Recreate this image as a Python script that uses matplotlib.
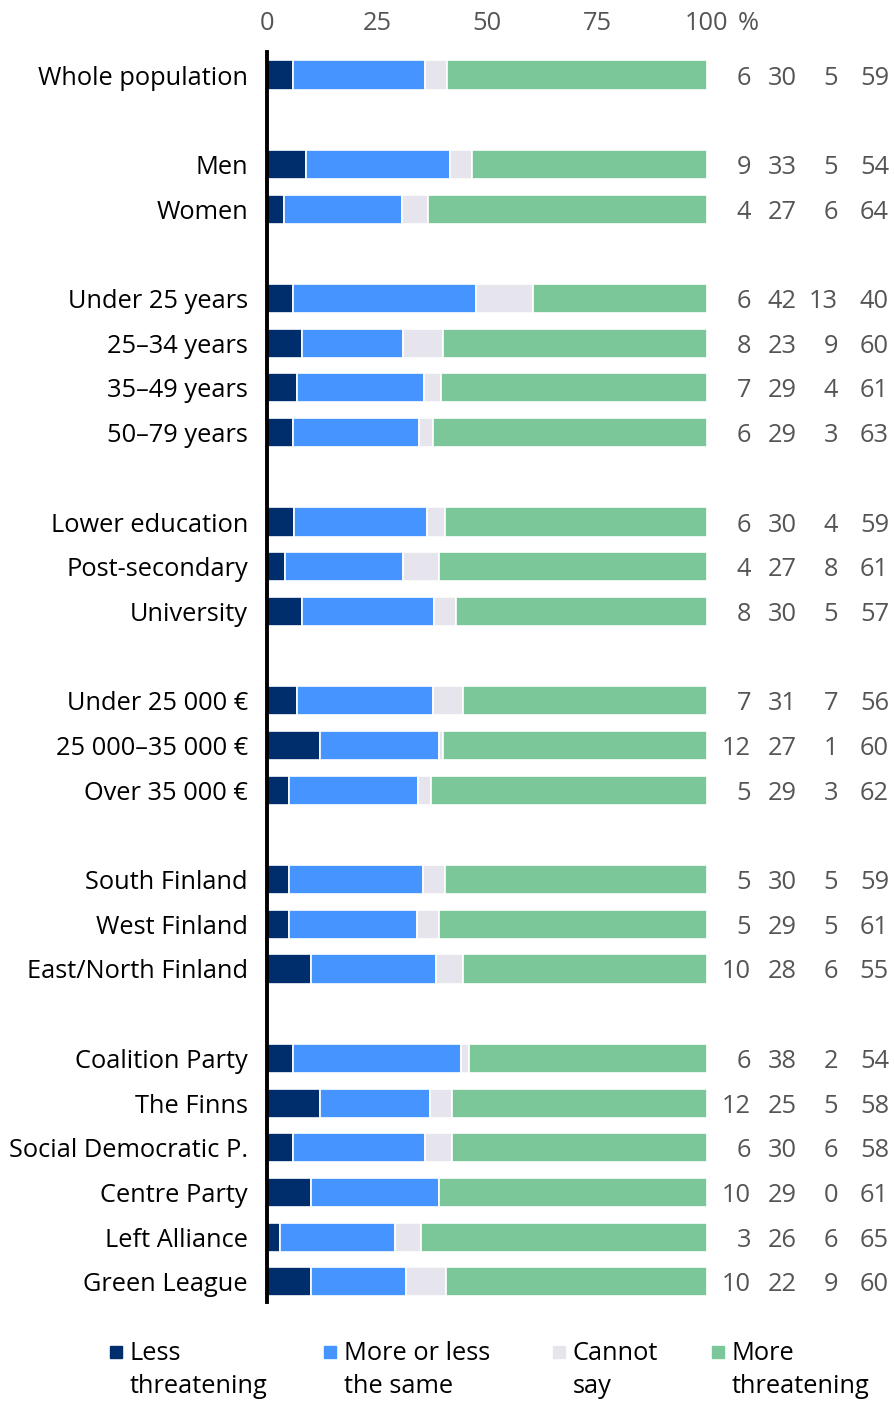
import matplotlib
matplotlib.use("Agg")
import matplotlib.pyplot as plt
import matplotlib.transforms as mtransforms
import numpy as np

plt.rcParams['font.family'] = ['Open Sans', 'DejaVu Sans']

categories = ["Whole population", "Men", "Women", "Under 25 years", "25–34 years",
              "35–49 years", "50–79 years", "Lower education", "Post-secondary",
              "University", "Under 25 000 €", "25 000–35 000 €", "Over 35 000 €",
              "South Finland", "West Finland", "East/North Finland", "Coalition Party",
              "The Finns", "Social Democratic P.", "Centre Party", "Left Alliance",
              "Green League"]
# row positions (blank rows separate groups)
rows = [0, 2, 3, 5, 6, 7, 8, 10, 11, 12, 14, 15, 16, 18, 19, 20, 22, 23, 24, 25, 26, 27]

less = [6, 9, 4, 6, 8, 7, 6, 6, 4, 8, 7, 12, 5, 5, 5, 10, 6, 12, 6, 10, 3, 10]
same = [30, 33, 27, 42, 23, 29, 29, 30, 27, 30, 31, 27, 29, 30, 29, 28, 38, 25, 30, 29, 26, 22]
cannot = [5, 5, 6, 13, 9, 4, 3, 4, 8, 5, 7, 1, 3, 5, 5, 6, 2, 5, 6, 0, 6, 9]
more = [59, 54, 64, 40, 60, 61, 63, 59, 61, 57, 56, 60, 62, 59, 61, 55, 54, 58, 58, 61, 65, 60]

series_names = ["Less\nthreatening", "More or less\nthe same", "Cannot\nsay", "More\nthreatening"]
colors = ["#002d6b", "#4594ff", "#e6e4ed", "#7cc799"]
xticks = [0, 25, 50, 75, 100]

W, H = 895, 1402
fig = plt.figure(figsize=(W / 100, H / 100), dpi=100)
ax_left, ax_right = 267, 707
ax_top, ax_bot = 52, 1302
ax = fig.add_axes([ax_left / W, 1 - ax_bot / H, (ax_right - ax_left) / W, (ax_bot - ax_top) / H])

data = np.array([less, same, cannot, more], dtype=float)
totals = data.sum(axis=0)
norm = data / totals * 100
left = np.zeros(len(categories))
y = np.array(rows, dtype=float)
for i in range(4):
    ax.barh(y, norm[i], left=left, height=0.65, color=colors[i],
            edgecolor="white", linewidth=1.2, zorder=2)
    left += norm[i]

ax.set_xlim(0, 100)
ax.set_ylim(27.45, -0.515)
ax.set_yticks([])
ax.set_xticks([])
for s in ["top", "right", "bottom"]:
    ax.spines[s].set_visible(False)
ax.spines["left"].set_linewidth(2.8)
ax.spines["left"].set_color("black")
ax.spines["left"].set_zorder(5)

fs = 18.3
# category labels
for r, c in zip(rows, categories):
    ax.text(-4.3, r, c, ha="right", va="center_baseline", fontsize=fs, color="black", clip_on=False)

# top tick labels
tt = mtransforms.blended_transform_factory(ax.transData, fig.transFigure)
for t in xticks:
    ax.text(t, 1 - 21 / H, str(t), ha="center", va="center_baseline", fontsize=fs, color="#555555", transform=tt)
ax.text((748 - ax_left) / 4.4, 1 - 21 / H, "%", ha="center", va="center_baseline", fontsize=fs, color="#555555", transform=tt)

# value columns
col_px = [751, 797, 838, 889]
for j, vals in enumerate([less, same, cannot, more]):
    xd = (col_px[j] - ax_left) / 4.4
    for r, v in zip(rows, vals):
        ax.text(xd, r, str(v), ha="right", va="center_baseline", fontsize=fs, color="#555555", clip_on=False)

# legend
sq_px = [110, 324, 553, 712]
for j in range(4):
    fig.patches.append(plt.Rectangle((sq_px[j] / W, 1 - 1358 / H), 12 / W, 12 / H,
                                     transform=fig.transFigure, color=colors[j]))
    fig.text((sq_px[j] + 20) / W, 1 - 1370 / H, series_names[j], ha="left", va="center",
             fontsize=fs, color="black", linespacing=1.45)

fig.savefig("out.png", dpi=100)
